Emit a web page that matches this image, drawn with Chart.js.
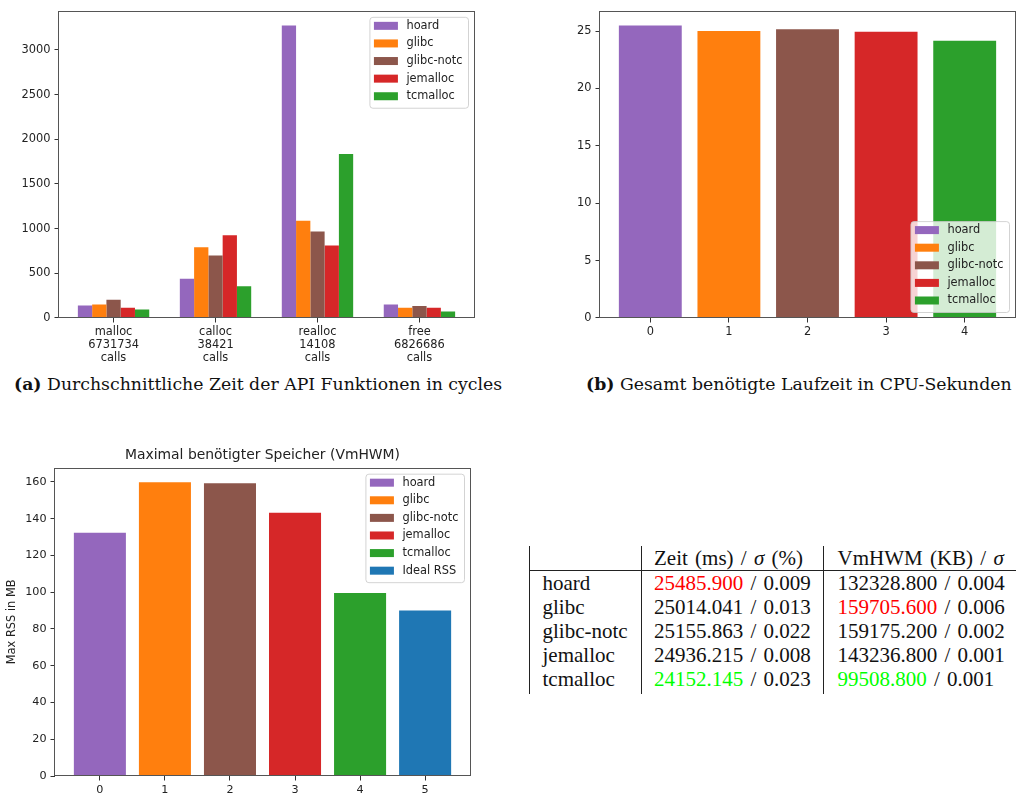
<!DOCTYPE html>
<html>
<head>
<meta charset="utf-8">
<title>Allokatoren</title>
<script src="https://cdn.jsdelivr.net/npm/chart.js@4.4.1/dist/chart.umd.min.js"></script>
<style>
  body { margin: 0; background: #fff; }
  #page { position: relative; width: 1016px; height: 796px; overflow: hidden; }
  canvas { position: absolute; }
  .caption {
    position: absolute; font-family: "DejaVu Serif", serif; font-size: 17.3px;
    line-height: 20px; color: #111; white-space: nowrap;
  }
  .caption b { font-weight: bold; }
  #results {
    position: absolute; left: 529px; top: 546px; width: 560px; table-layout: fixed;
    border-collapse: collapse; font-family: "Liberation Serif", serif; font-size: 21px;
    color: #111; word-spacing: 2px;
  }
  #results td {
    box-sizing: border-box; padding: 0 0 0 12.5px; height: 24px; line-height: 24px;
    white-space: nowrap; overflow: visible;
  }
  #results td.c1 { width: 111.5px; border-left: 1px solid #222; border-right: 1px solid #222; }
  #results td.c2 { width: 182.5px; border-right: 1px solid #222; }
  #results td.c3 { width: 266px; padding-left: 13.5px; }
  #results tr.head td { border-bottom: 1px solid #222; }
  #results tr.last td { padding-bottom: 3px; }
  .hi { color: #ff0000; }
  .lo { color: #00ff00; }
</style>
</head>
<body>
<div id="page">
  <canvas id="cyclesChart" width="490" height="372" style="left:0;top:0"></canvas>
  <canvas id="cpuChart" width="496" height="372" style="left:520px;top:0"></canvas>
  <canvas id="rssChart" width="500" height="366" style="left:0;top:430px"></canvas>
  <div class="caption" style="left:14px;top:374px"><b>(a)</b> Durchschnittliche Zeit der API Funktionen in cycles</div>
  <div class="caption" style="left:586px;top:374px"><b>(b)</b> Gesamt benötigte Laufzeit in CPU-Sekunden</div>
  <table id="results"></table>
</div>
<script>
// Allokatoren und ihre Farben
const allocators = ['hoard', 'glibc', 'glibc-notc', 'jemalloc', 'tcmalloc'];
const allocColors = ['#9467bd', '#ff7f0e', '#8c564b', '#d62728', '#2ca02c'];

// API-Funktionen mit Anzahl der Aufrufe
const apiFuncs = ['malloc', 'calloc', 'realloc', 'free'];
const apiCalls = [6731734, 38421, 14108, 6826686];

// durchschnittliche cycles pro Aufruf (malloc, calloc, realloc, free)
const cyclesHoard = [140, 440, 3273, 152];
const cyclesGlibc = [152, 791, 1087, 115];
const cyclesGlibcNotc = [203, 699, 969, 133];
const cyclesJemalloc = [115, 925, 810, 115];
const cyclesTcmalloc = [96, 355, 1834, 74];

// Messwerte aus der Tabelle
const timeMs = [25485.900, 25014.041, 25155.863, 24936.215, 24152.145];
const timeSigma = [0.009, 0.013, 0.022, 0.008, 0.023];
const vmhwmKb = [132328.800, 159705.600, 159175.200, 143236.800, 99508.800];
const vmhwmSigma = [0.004, 0.006, 0.002, 0.001, 0.001];
const idealRssMb = 90;
const idealLabel = 'Ideal RSS';
const idealColor = '#1f77b4';

// Achsenbeschriftungen
const cyclesTicks = [0, 500, 1000, 1500, 2000, 2500, 3000];
const cpuTicks = [0, 5, 10, 15, 20, 25];
const rssTicks = [0, 20, 40, 60, 80, 100, 120, 140, 160];

const textColor = '#222';
const tickFont = { family: 'DejaVu Sans', size: 11.4 };

// Achsenrahmen (alle vier Seiten) und Legende in der Ecke
const frameAndLegend = {
  id: 'frameAndLegend',
  afterDatasetsDraw(chart, args, opts) {
    const { ctx, chartArea: a } = chart;
    ctx.save();
    ctx.strokeStyle = '#555';
    ctx.lineWidth = 1;
    ctx.strokeRect(Math.round(a.left) - 0.5, Math.round(a.top) + 0.5,
      Math.round(a.right - a.left) + 1, Math.round(a.bottom - a.top) - 1);

    ctx.font = '11.4px "DejaVu Sans"';
    const textW = Math.max(...opts.labels.map(l => ctx.measureText(l).width));
    const w = 37 + textW + 5.5;
    const step = 17.6;
    const h = 9 + (opts.labels.length - 1) * step + 11.5;
    const x = a.right - 6 - w;
    const y = opts.corner === 'lower' ? a.bottom - 6 - h : a.top + 6;

    ctx.beginPath();
    ctx.roundRect(x + 0.5, y + 0.5, w, h, 3);
    ctx.fillStyle = 'rgba(255,255,255,0.8)';
    ctx.fill();
    ctx.strokeStyle = 'rgba(200,200,200,0.8)';
    ctx.stroke();

    ctx.textBaseline = 'middle';
    opts.labels.forEach((label, i) => {
      const cy = y + 9 + i * step;
      ctx.fillStyle = opts.colors[i];
      ctx.fillRect(x + 4.5, cy - 4, 24, 8);
      ctx.fillStyle = textColor;
      ctx.fillText(label, x + 37, cy);
    });
    ctx.restore();
  }
};

function fixedTicks(values) {
  return scale => { scale.ticks = values.map(v => ({ value: v })); };
}

function tickMarks() {
  return { display: true, drawOnChartArea: false, drawTicks: true, tickLength: 4.5,
    tickColor: '#333', offset: false };
}

const plainNumber = v => String(v);

// (a) durchschnittliche Zeit der API-Funktionen
const cyclesByAlloc = [cyclesHoard, cyclesGlibc, cyclesGlibcNotc, cyclesJemalloc, cyclesTcmalloc];
const cyclesMax = Math.max(...cyclesByAlloc.flat()) * 1.05;

new Chart(document.getElementById('cyclesChart'), {
  type: 'bar',
  data: {
    datasets: allocators.map((name, k) => ({
      label: name,
      data: apiFuncs.map((f, i) => ({ x: i, y: cyclesByAlloc[k][i] })),
      backgroundColor: allocColors[k],
      categoryPercentage: 0.7,
      barPercentage: 1.0
    }))
  },
  options: {
    responsive: false,
    animation: false,
    events: [],
    layout: { padding: { top: 9, right: 16, bottom: 0, left: 0 } },
    scales: {
      x: {
        type: 'linear', min: -0.535, max: 3.535, offset: false,
        grid: tickMarks(), border: { display: false },
        afterBuildTicks: fixedTicks(apiFuncs.map((f, i) => i)),
        afterFit: s => { s.height = 54; },
        ticks: {
          color: textColor, padding: 2.5, maxRotation: 0, autoSkip: false,
          font: { ...tickFont, lineHeight: 1.17 },
          callback: v => [apiFuncs[v], String(apiCalls[v]), 'calls']
        }
      },
      y: {
        min: 0, max: cyclesMax, bounds: 'data',
        grid: tickMarks(), border: { display: false },
        afterBuildTicks: fixedTicks(cyclesTicks),
        afterFit: s => { s.width = 59; },
        ticks: { color: textColor, padding: 4, font: tickFont, callback: plainNumber }
      }
    },
    plugins: {
      legend: { display: false },
      tooltip: { enabled: false },
      frameAndLegend: { labels: allocators, colors: allocColors, corner: 'upper' }
    }
  },
  plugins: [frameAndLegend]
});

// (b) Gesamtlaufzeit in CPU-Sekunden
const cpuSeconds = timeMs.map(v => v / 1000);

new Chart(document.getElementById('cpuChart'), {
  type: 'bar',
  data: {
    datasets: [{
      data: cpuSeconds.map((v, i) => ({ x: i, y: v })),
      backgroundColor: allocColors,
      categoryPercentage: 1.0,
      barPercentage: 0.8
    }]
  },
  options: {
    responsive: false,
    animation: false,
    events: [],
    layout: { padding: { top: 9, right: 1, bottom: 0, left: 0 } },
    scales: {
      x: {
        type: 'linear', min: -0.64, max: 4.64, offset: false,
        grid: tickMarks(), border: { display: false },
        afterBuildTicks: fixedTicks(allocators.map((a, i) => i)),
        afterFit: s => { s.height = 54; },
        ticks: { color: textColor, padding: 2.5, maxRotation: 0, font: tickFont, callback: plainNumber }
      },
      y: {
        min: 0, max: Math.max(...cpuSeconds) * 1.05, bounds: 'data',
        grid: tickMarks(), border: { display: false },
        afterBuildTicks: fixedTicks(cpuTicks),
        afterFit: s => { s.width = 80; },
        ticks: { color: textColor, padding: 4, font: tickFont, callback: plainNumber }
      }
    },
    plugins: {
      legend: { display: false },
      tooltip: { enabled: false },
      frameAndLegend: { labels: allocators, colors: allocColors, corner: 'lower' }
    }
  },
  plugins: [frameAndLegend]
});

// (c) maximal benötigter Speicher
const rssMb = vmhwmKb.map(v => v / 1000).concat([idealRssMb]);
const rssLabels = allocators.concat([idealLabel]);
const rssColors = allocColors.concat([idealColor]);

new Chart(document.getElementById('rssChart'), {
  type: 'bar',
  data: {
    datasets: [{
      data: rssMb.map((v, i) => ({ x: i, y: v })),
      backgroundColor: rssColors,
      categoryPercentage: 1.0,
      barPercentage: 0.8
    }]
  },
  options: {
    responsive: false,
    animation: false,
    events: [],
    layout: { padding: { top: 0, right: 30, bottom: 0, left: 0 } },
    scales: {
      x: {
        type: 'linear', min: -0.69, max: 5.69, offset: false,
        grid: tickMarks(), border: { display: false },
        afterBuildTicks: fixedTicks(rssLabels.map((a, i) => i)),
        afterFit: s => { s.height = 20; },
        ticks: { color: textColor, padding: 2.5, maxRotation: 0, font: { ...tickFont, size: 11.2 }, callback: plainNumber }
      },
      y: {
        min: 0, max: Math.max(...rssMb) * 1.05, bounds: 'data',
        grid: tickMarks(), border: { display: false },
        afterBuildTicks: fixedTicks(rssTicks),
        afterFit: s => { s.width = 55; },
        ticks: { color: textColor, padding: 4, font: { ...tickFont, size: 11.2 }, callback: plainNumber },
        title: {
          display: true, text: 'Max RSS in MB', color: textColor,
          font: { family: 'DejaVu Sans', size: 11.4, lineHeight: 1.2 },
          padding: { top: 5.5, bottom: 0 }
        }
      }
    },
    plugins: {
      legend: { display: false },
      tooltip: { enabled: false },
      title: {
        display: true, fullSize: false, text: 'Maximal benötigter Speicher (VmHWM)',
        color: textColor, font: { family: 'DejaVu Sans', size: 13.9, weight: 'normal', lineHeight: 1.2 },
        padding: { top: 17.3, bottom: 3.7 }
      },
      frameAndLegend: { labels: rssLabels, colors: rssColors, corner: 'upper' }
    }
  },
  plugins: [frameAndLegend]
});

// Tabelle: Zeit und VmHWM mit Standardabweichung, Extremwerte farbig
function cell(value, cls) {
  const txt = value.toFixed(3);
  return cls ? '<span class="' + cls + '">' + txt + '</span>' : txt;
}
const tMax = timeMs.indexOf(Math.max(...timeMs)), tMin = timeMs.indexOf(Math.min(...timeMs));
const mMax = vmhwmKb.indexOf(Math.max(...vmhwmKb)), mMin = vmhwmKb.indexOf(Math.min(...vmhwmKb));
let html = '<tr class="head"><td class="c1"></td><td class="c2">Zeit (ms) / <i>σ</i> (%)</td>' +
  '<td class="c3">VmHWM (KB) / <i>σ</i></td></tr>';
allocators.forEach((name, i) => {
  const last = i === allocators.length - 1 ? ' class="last"' : '';
  html += '<tr' + last + '><td class="c1">' + name + '</td>' +
    '<td class="c2">' + cell(timeMs[i], i === tMax ? 'hi' : i === tMin ? 'lo' : '') + ' / ' + timeSigma[i].toFixed(3) + '</td>' +
    '<td class="c3">' + cell(vmhwmKb[i], i === mMax ? 'hi' : i === mMin ? 'lo' : '') + ' / ' + vmhwmSigma[i].toFixed(3) + '</td></tr>';
});
document.getElementById('results').innerHTML = html;
</script>
</body>
</html>
